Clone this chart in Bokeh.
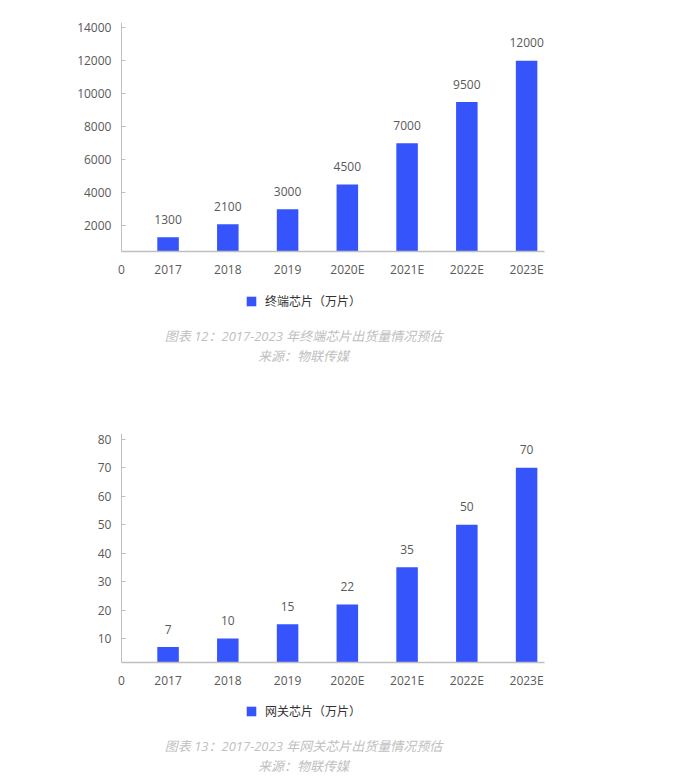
from bokeh.plotting import figure
from bokeh.models import (ColumnDataSource, Range1d, FixedTicker, CustomJSTickFormatter,
                          Legend, LegendItem, Title)
from bokeh.core.properties import value
from bokeh.layouts import column
from bokeh.embed import file_html
from bokeh.resources import INLINE

categories = ["2017", "2018", "2019", "2020E", "2021E", "2022E", "2023E"]
terminal_values = [1300, 2100, 3000, 4500, 7000, 9500, 12000]
gateway_values = [7, 10, 15, 22, 35, 50, 70]
terminal_ticks = [2000, 4000, 6000, 8000, 10000, 12000, 14000]
gateway_ticks = [10, 20, 30, 40, 50, 60, 70, 80]
terminal_legend = "终端芯片（万片）"
gateway_legend = "网关芯片（万片）"
terminal_caption = "图表 12：2017-2023 年终端芯片出货量情况预估"
gateway_caption = "图表 13：2017-2023 年网关芯片出货量情况预估"
source_caption = "来源：物联传媒"

BAR = "#3654fc"
AXIS = "#bfbfbf"
TICK_TXT = "#595959"
NUM_FONT = "Open Sans"
CJK_FONT = "Noto Sans CJK SC"
CAPTION_FONT = "Open Sans, Noto Sans CJK SC"

# axis extent (data units) and the wider frame extent
AX_START, AX_END = 0.22, 7.3
FR_START, FR_END = -0.80, 7.333
PLOT_PX = 229  # pixel height of the bar area (axis part of the frame)


def make_chart(values, yticks, y_start, y_end, legend_text, caption,
               border_top, frame_h, border_bottom):
    xs = [i + 1 for i in range(len(categories))]
    src = ColumnDataSource(dict(x=xs, top=values, label=[str(v) for v in values]))
    # extend the range below the baseline so the legend fits inside the frame
    y_lo = y_start - (frame_h - PLOT_PX) * (y_end - y_start) / PLOT_PX
    p = figure(frame_width=486, frame_height=frame_h, output_backend="svg",
               toolbar_location=None,
               x_range=Range1d(FR_START, FR_END), y_range=Range1d(y_lo, y_end),
               min_border_left=60, min_border_right=135,
               min_border_top=border_top, min_border_bottom=border_bottom)
    p.outline_line_color = None
    p.grid.grid_line_color = None

    r = p.vbar(x="x", top="top", bottom=y_start, width=0.36, source=src,
               fill_color=BAR, line_color=None)
    p.text(x="x", y="top", text="label", source=src, text_align="center",
           text_baseline="middle", y_offset=-18, text_font_size="12px",
           text_color=TICK_TXT, text_font=value(NUM_FONT))

    p.yaxis.fixed_location = AX_START
    p.yaxis.bounds = (y_start, y_end)
    p.yaxis.ticker = FixedTicker(ticks=yticks)
    p.yaxis.axis_line_color = AXIS
    p.yaxis.major_tick_line_color = AXIS
    p.yaxis.major_tick_in = 4
    p.yaxis.major_tick_out = 0
    p.yaxis.minor_tick_line_color = None
    p.yaxis.major_label_standoff = 10
    p.yaxis.major_label_text_font_size = "12px"
    p.yaxis.major_label_text_color = TICK_TXT
    p.yaxis.major_label_text_font = NUM_FONT

    p.xaxis.fixed_location = y_start
    p.xaxis.bounds = (AX_START, AX_END)
    p.xaxis.ticker = FixedTicker(ticks=[AX_START] + xs)
    p.xaxis.formatter = CustomJSTickFormatter(
        args=dict(cats=categories),
        code="return tick < 0.5 ? '0' : cats[Math.round(tick) - 1];")
    p.xaxis.axis_line_color = AXIS
    p.xaxis.axis_line_width = 1.5
    p.xaxis.major_tick_line_color = None
    p.xaxis.minor_tick_line_color = None
    p.xaxis.major_tick_in = 0
    p.xaxis.major_tick_out = 0
    p.xaxis.major_label_standoff = 9
    p.xaxis.major_label_text_font_size = "12px"
    p.xaxis.major_label_text_color = TICK_TXT
    p.xaxis.major_label_text_font = NUM_FONT

    legend = Legend(items=[LegendItem(label=legend_text, renderers=[r])],
                    location=(185, 15), margin=0, padding=5,
                    glyph_width=12, glyph_height=12, label_standoff=8,
                    border_line_color=None, background_fill_alpha=0,
                    label_text_font=CJK_FONT, label_text_font_size="12px",
                    label_text_color="#333333")
    p.add_layout(legend, "center")

    for line in (caption, source_caption):
        t = Title(text=line, align="center", standoff=0,
                  text_font=CAPTION_FONT, text_font_size="13px",
                  text_font_style="italic", text_color="#c0c0c0")
        p.add_layout(t, "below")
    return p


p1 = make_chart(terminal_values, terminal_ticks, 442, 14320, terminal_legend,
                terminal_caption, 22, 302, 68)
p2 = make_chart(gateway_values, gateway_ticks, 1.6, 82, gateway_legend,
                gateway_caption, 41, 301, 50)

layout = column(p1, p2, spacing=0)
open("out.html", "w").write(file_html(layout, INLINE))
